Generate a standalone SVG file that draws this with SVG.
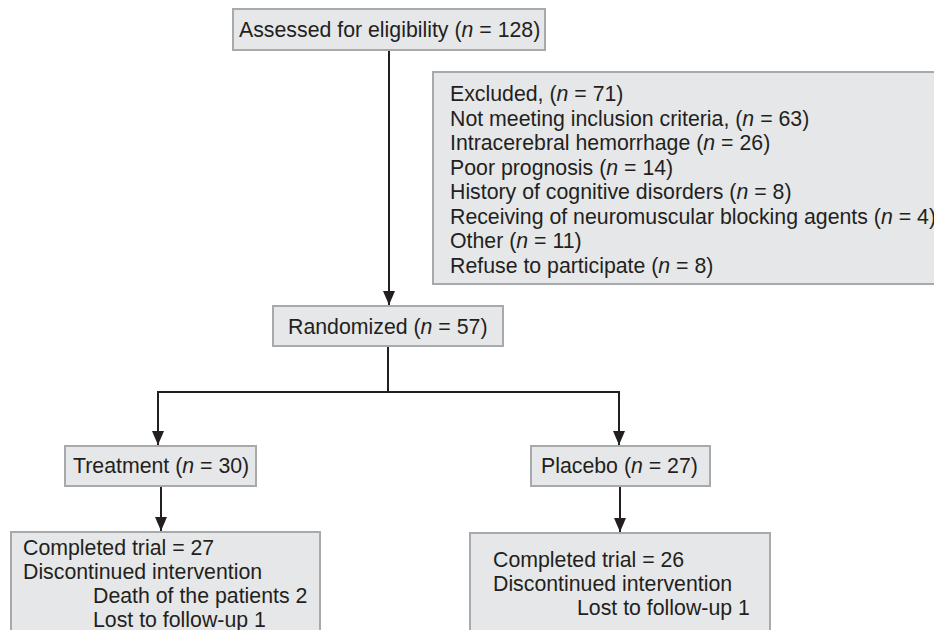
<svg xmlns="http://www.w3.org/2000/svg" width="934" height="630" viewBox="0 0 934 630">
<style>
.box{fill:#e6e7e8;stroke:#a7a9ac;stroke-width:2}
.t{font-family:"Liberation Sans",Arial,sans-serif;font-size:21.3px;fill:#231f20}
.conn{fill:none;stroke:#231f20;stroke-width:2}
</style>
<defs>
<marker id="ah" viewBox="0 0 14 12" refX="14" refY="6" markerWidth="14" markerHeight="12" markerUnits="userSpaceOnUse" orient="auto">
<path d="M0,0 L14,6 L0,12 Z" fill="#231f20"/>
</marker>
</defs>
<rect width="934" height="630" fill="#ffffff"/>
<g id="connectors">
<line class="conn" x1="389" y1="50" x2="389" y2="305" marker-end="url(#ah)"/>
<path class="conn" d="M388,346 L388,392"/>
<path class="conn" d="M158,392 L619,392" stroke-width="2.5"/>
<line class="conn" x1="158" y1="391" x2="158" y2="445" marker-end="url(#ah)"/>
<line class="conn" x1="619" y1="391" x2="619" y2="445" marker-end="url(#ah)"/>
<line class="conn" x1="161" y1="486" x2="161" y2="531" marker-end="url(#ah)"/>
<line class="conn" x1="620" y1="486" x2="620" y2="532" marker-end="url(#ah)"/>
</g>
<g id="assessed">
<rect class="box" x="233" y="9" width="312" height="41"/>
<text class="t" x="239" y="37">Assessed for eligibility (<tspan font-style="italic">n</tspan> = 128)</text>
</g>
<g id="excluded">
<rect class="box" x="433" y="72" width="510" height="212"/>
<text class="t" x="450" y="101">Excluded, (<tspan font-style="italic">n</tspan> = 71)</text>
<text class="t" x="450" y="125.5">Not meeting inclusion criteria, (<tspan font-style="italic">n</tspan> = 63)</text>
<text class="t" x="450" y="150">Intracerebral hemorrhage (<tspan font-style="italic">n</tspan> = 26)</text>
<text class="t" x="450" y="174.5">Poor prognosis (<tspan font-style="italic">n</tspan> = 14)</text>
<text class="t" x="450" y="199">History of cognitive disorders (<tspan font-style="italic">n</tspan> = 8)</text>
<text class="t" x="450" y="223.5">Receiving of neuromuscular blocking agents (<tspan font-style="italic">n</tspan> = 4)</text>
<text class="t" x="450" y="248">Other (<tspan font-style="italic">n</tspan> = 11)</text>
<text class="t" x="450" y="272.5">Refuse to participate (<tspan font-style="italic">n</tspan> = 8)</text>
</g>
<g id="randomized">
<rect class="box" x="273" y="306" width="230" height="40"/>
<text class="t" x="288" y="334">Randomized (<tspan font-style="italic">n</tspan> = 57)</text>
</g>
<g id="treatment">
<rect class="box" x="65" y="446" width="191" height="40"/>
<text class="t" x="73" y="473">Treatment (<tspan font-style="italic">n</tspan> = 30)</text>
</g>
<g id="placebo">
<rect class="box" x="531" y="446" width="179" height="40"/>
<text class="t" x="541" y="473">Placebo (<tspan font-style="italic">n</tspan> = 27)</text>
</g>
<g id="treatment-outcome">
<rect class="box" x="11" y="532" width="309" height="110"/>
<text class="t" x="23" y="555">Completed trial = 27</text>
<text class="t" x="23" y="579">Discontinued intervention</text>
<text class="t" x="93" y="603">Death of the patients 2</text>
<text class="t" x="93" y="627">Lost to follow-up 1</text>
</g>
<g id="placebo-outcome">
<rect class="box" x="470" y="533" width="300" height="110"/>
<text class="t" x="493" y="567">Completed trial = 26</text>
<text class="t" x="493" y="591">Discontinued intervention</text>
<text class="t" x="577" y="615">Lost to follow-up 1</text>
</g>
</svg>
